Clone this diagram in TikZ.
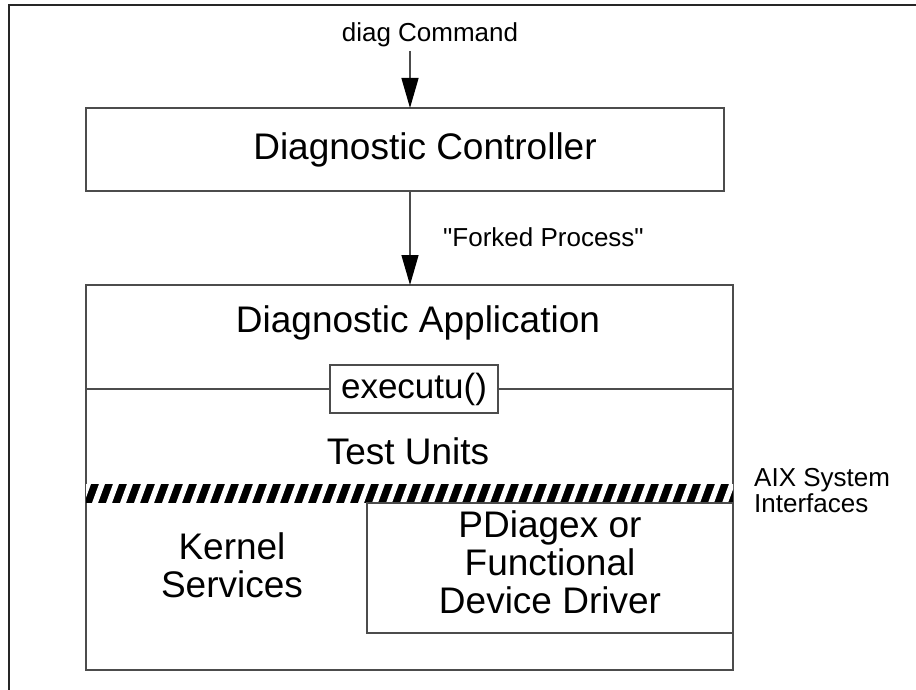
\documentclass[tikz,border=0pt]{standalone}
\usepackage{fontspec}
\setmainfont{Liberation Sans}[Ligatures=TeXOff]
\usetikzlibrary{arrows.meta}
\begin{document}
\begin{tikzpicture}[x=1pt,y=-1pt,
  box/.style={draw=black!70, line width=1.3pt, inner sep=0pt, outer sep=0pt},
  bigtext/.style={font=\fontsize{37}{38}\selectfont, align=center, inner sep=0pt},
  lbl/.style={font=\fontsize{26}{26}\selectfont, align=left, inner sep=0pt},
  arr/.style={draw=black!70, line width=1.3pt, -{Triangle[width=17pt,length=30pt,color=black]}}]
\useasboundingbox (0,0) rectangle (916,690);
% outer frame
\draw[line width=1.6pt, black!85] (916,5) -- (9,5) -- (9,690);
% boxes
\node[box, minimum width=638pt, minimum height=83pt] (ctrl) at (405,149.5) {};
\node[box, minimum width=647pt, minimum height=385pt] (big) at (409.5,477.5) {};
\node[box, minimum width=168pt, minimum height=48pt, bigtext, font=\fontsize{35}{38}\selectfont] (exec) at (414,389) {executu()};
\draw[draw=black!70, line width=1.3pt] (big.west |- exec) -- (exec.west);
\draw[draw=black!70, line width=1.3pt] (exec.east) -- (big.east |- exec);
% hatched band
\node[fill=black, minimum width=647pt, minimum height=19pt, inner sep=0pt, outer sep=0pt] (band) at (409.5,493.5) {};
\begin{scope}
\clip (band.north west) rectangle (band.south east);
\foreach \i in {0,...,48} {
  \fill[white] ({78+\i*14},503) -- ++(6,0) -- ++(7,-19) -- ++(-6,0) -- cycle;
}
\end{scope}
\node[box, minimum width=366pt, minimum height=130pt] (pdiag) at (550,568) {};
% arrows
\coordinate (src) at (410,51);
\draw[arr] (src) -- (src |- ctrl.north);
\draw[arr] (ctrl.south -| src) -- (src |- big.north);
% texts
\node[lbl, anchor=base] (cmd) at (430,42) {diag Command};
\node[lbl, anchor=base west] (fork) at (443,246) {"Forked Process"};
\node[bigtext, anchor=base] (ctrltext) at (425,160) {Diagnostic Controller};
\node[bigtext, anchor=base] (apptext) at (418,332) {Diagnostic Application};
\node[bigtext, anchor=base] (tutext) at (408,464) {Test Units};
\node[bigtext] (kern) at (232,565) {Kernel\\Services};
\node[bigtext] (pdtext) at (550,562) {PDiagex or\\Functional\\Device Driver};
\node[lbl, anchor=north west] (aix) at (754,468) {AIX System\\Interfaces};
\end{tikzpicture}
\end{document}
